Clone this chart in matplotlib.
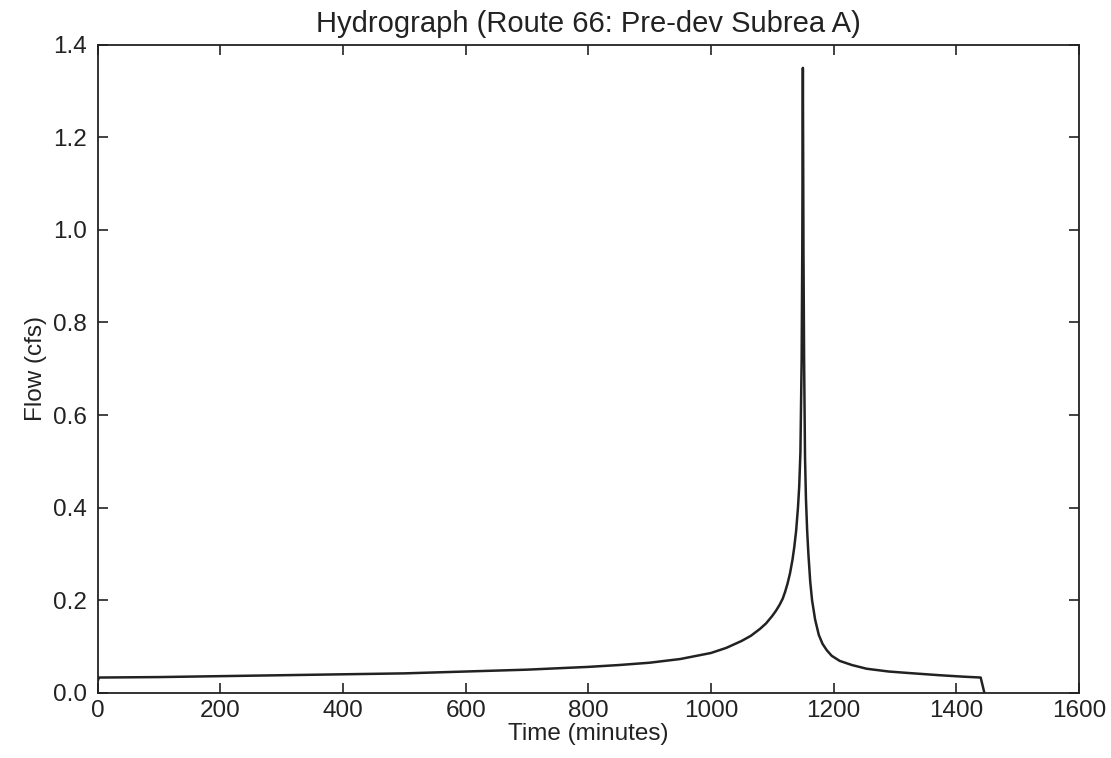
import matplotlib
matplotlib.use("Agg")
from matplotlib import pyplot as plt

# Hydrograph readings (time in minutes, flow in cfs)
time_min = [0, 2, 100, 200, 300, 400, 500, 600, 700, 800, 850, 900, 950,
            1000, 1025, 1050, 1065, 1080, 1090, 1100, 1106, 1112, 1117,
            1121, 1125, 1129, 1133, 1136, 1139, 1142, 1144, 1146, 1148,
            1149, 1150, 1151, 1152, 1153.5, 1155, 1157, 1159, 1162, 1165,
            1170, 1176, 1182, 1189, 1197, 1210, 1230, 1254, 1290, 1320,
            1373, 1410, 1440, 1446]
flow_cfs = [0.026, 0.033, 0.034, 0.036, 0.038, 0.040, 0.042, 0.046, 0.050,
            0.056, 0.060, 0.065, 0.073, 0.086, 0.097, 0.112, 0.123, 0.138,
            0.150, 0.166, 0.177, 0.190, 0.203, 0.218, 0.236, 0.258, 0.287,
            0.315, 0.350, 0.400, 0.445, 0.52, 0.72, 0.95, 1.35, 0.95, 0.72,
            0.51, 0.42, 0.35, 0.30, 0.24, 0.20, 0.158, 0.125, 0.106, 0.092,
            0.080, 0.069, 0.060, 0.052, 0.046, 0.043, 0.038, 0.035, 0.033,
            0.0]

x_ticks = [0, 200, 400, 600, 800, 1000, 1200, 1400, 1600]
y_ticks = [0.0, 0.2, 0.4, 0.6, 0.8, 1.0, 1.2, 1.4]

plt.rcParams['font.family'] = ['Liberation Sans', 'DejaVu Sans']

fig = plt.figure(figsize=(11.11, 7.58), dpi=100)
ax = fig.add_axes([0.088, 0.086, 0.883, 0.855])

ax.plot(time_min, flow_cfs, color="#222222", linewidth=1.8)

ax.set_xlim(0, 1600)
ax.set_ylim(0, 1.4)
ax.set_xticks(x_ticks)
ax.set_yticks(y_ticks)
ax.set_yticklabels(["%.1f" % v for v in y_ticks])
ax.tick_params(direction="in", top=True, right=True, length=7, width=1.2,
               labelsize=17.5, colors="#222222")
ax.tick_params(axis="x", pad=5)
ax.tick_params(axis="y", pad=8)
for s in ax.spines.values():
    s.set_linewidth(1.3)
    s.set_color("#222222")

ax.set_title("Hydrograph (Route 66: Pre-dev Subrea A)", fontsize=21, pad=9,
             color="#222222")
ax.set_xlabel("Time (minutes)", fontsize=17.5, color="#222222", labelpad=1)
ax.set_ylabel("Flow (cfs)", fontsize=17.5, color="#222222")

fig.savefig("out.png", dpi=100)
